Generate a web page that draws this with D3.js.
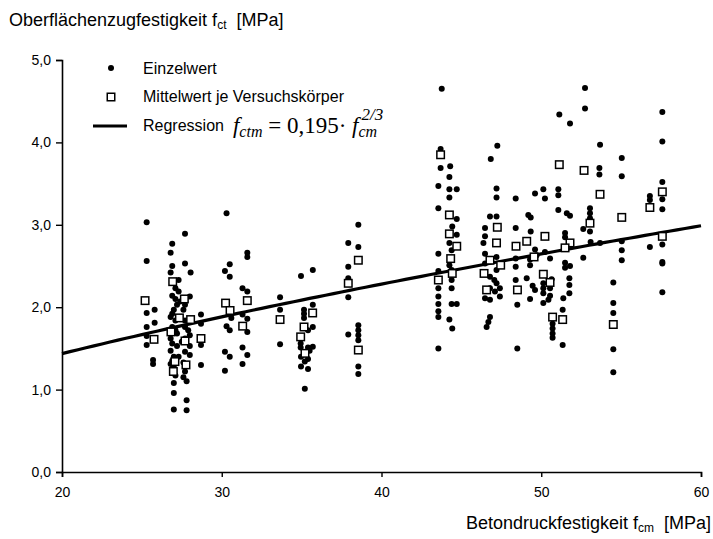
<!DOCTYPE html>
<html>
<head>
<meta charset="utf-8">
<title>Oberflächenzugfestigkeit</title>
<style>
  body { margin: 0; background: #fff; }
  svg text { font-family: "Liberation Sans", Arial, sans-serif; fill: #000; }
  text.formula { font-family: "Liberation Serif", "Times New Roman", serif; }
</style>
</head>
<body>
<svg id="chart" width="713" height="539"></svg>
<script src="https://cdn.jsdelivr.net/npm/d3@7"></script>
<script>

// Einzelwerte [fcm, fct]
var einzelwerte = [
  [25.3,3.03],[25.3,2.56],[25.3,1.93],[25.8,1.97],[25.8,1.81],[25.3,1.76],[25.3,1.65],[25.3,1.54],[25.7,1.36],[25.7,1.31],
  [27.7,2.89],[26.9,2.77],[26.8,2.66],[27.7,2.53],[26.9,2.50],[26.8,2.42],[28.05,2.42],[27.3,2.33],[27.1,2.23],[27.3,2.19],
  [26.9,2.14],[28.0,2.13],[27.1,2.10],[27.4,2.07],[27.2,2.03],[27.7,2.03],[27.0,1.97],[27.6,1.97],[26.9,1.92],[28.7,1.91],
  [26.8,1.88],[27.1,1.84],[27.7,1.84],[28.7,1.80],[26.9,1.76],[27.7,1.76],[27.9,1.72],[27.1,1.72],[27.2,1.68],[28.0,1.66],
  [26.8,1.62],[27.7,1.62],[27.5,1.58],[28.7,1.54],[26.9,1.56],[27.2,1.53],[28.0,1.53],[26.8,1.47],[27.7,1.46],[28.0,1.42],
  [27.0,1.40],[27.3,1.40],[26.9,1.35],[27.6,1.33],[28.7,1.30],[26.8,1.31],[27.0,1.27],[27.7,1.22],[27.1,1.17],[27.6,1.15],
  [27.8,1.10],[27.0,1.08],[27.0,0.96],[27.8,0.87],[27.0,0.76],[27.8,0.75],
  [30.3,3.14],[30.5,2.52],[30.2,2.44],[30.5,2.37],[31.6,2.66],[31.6,2.61],[31.3,2.23],[31.6,2.19],[30.6,1.87],[31.3,1.91],
  [31.6,1.86],[30.3,1.77],[30.5,1.72],[31.6,1.70],[30.2,1.46],[30.5,1.40],[31.3,1.51],[31.6,1.42],[31.3,1.31],[30.2,1.23],
  [33.65,2.12],[33.65,1.97],[33.65,1.55],[34.96,2.38],[35.7,2.45],[35.7,2.03],[35.15,1.97],[35.15,1.92],[35.15,1.87],[35.7,1.76],
  [35.4,1.72],[34.94,1.56],[35.7,1.52],[35.4,1.51],[34.94,1.51],[35.5,1.47],[34.96,1.40],[35.4,1.37],[35.2,1.34],[34.96,1.28],
  [35.4,1.25],[35.2,1.01],
  [38.55,3.00],[37.92,2.78],[38.55,2.73],[37.92,2.49],[37.92,2.35],[37.92,2.12],[37.92,1.67],[38.55,1.78],[38.55,1.72],[38.55,1.66],
  [38.55,1.60],[38.55,1.28],[38.55,1.19],
  [43.77,4.65],[43.7,3.92],[43.7,3.69],[44.3,3.71],[44.25,3.58],[43.56,3.47],[44.25,3.43],[44.71,3.43],[44.25,3.33],[43.56,3.20],
  [44.71,3.07],[44.43,2.98],[44.71,2.88],[44.25,2.78],[44.39,2.69],[43.56,2.65],[44.25,2.51],[44.39,2.45],[43.56,2.44],[44.39,2.33],
  [44.39,2.23],[43.56,2.23],[43.56,2.13],[43.56,2.04],[44.39,2.04],[44.71,2.04],[43.56,1.95],[43.56,1.88],[44.25,1.85],[44.43,1.74],
  [43.56,1.50],
  [47.25,3.96],[46.84,3.80],[47.2,3.44],[47.2,3.33],[46.79,3.10],[47.2,3.10],[46.48,2.96],[46.48,2.86],[46.38,2.78],[46.48,2.65],
  [47.2,2.61],[47.41,2.53],[46.48,2.53],[47.2,2.45],[46.79,2.37],[47.06,2.33],[47.2,2.29],[46.79,2.23],[47.41,2.23],[47.1,2.19],
  [46.48,2.11],[47.41,2.13],[46.79,2.09],[46.79,1.88],[46.69,1.82],[46.58,1.76],
  [48.4,3.32],[48.4,2.96],[48.4,2.59],[48.4,2.49],[48.4,2.33],[48.5,2.03],[48.5,1.50],[49.61,3.38],[50.13,3.43],[50.23,3.32],
  [51.07,3.43],[51.07,3.36],[51.13,4.34],[51.8,4.23],[51.07,3.18],[51.6,3.14],[51.8,3.11],[49.19,3.12],[49.34,3.09],[49.34,2.92],
  [51.49,2.90],[51.49,2.85],[49.61,2.70],[50.23,2.67],[49.71,2.63],[50.55,2.59],[49.3,2.58],[51.49,2.54],[51.8,2.50],[51.49,2.48],
  [49.3,2.51],[49.09,2.35],[50.65,2.34],[50.13,2.29],[51.76,2.35],[51.76,2.27],[51.76,2.17],[51.38,2.11],[49.46,2.26],[49.61,2.21],
  [50.13,2.23],[50.13,2.17],[50.55,2.23],[50.55,2.14],[50.13,2.05],[50.45,2.09],[49.3,2.10],[50.71,1.80],[50.71,1.74],[50.71,1.68],
  [50.71,1.63],[51.34,1.97],[51.34,1.54],
  [52.74,4.66],[52.74,4.41],[53.68,3.97],[53.64,3.69],[53.64,3.61],[53.05,3.20],[53.05,3.14],[53.05,3.08],[53.05,2.92],[52.63,2.95],
  [53.09,2.79],[53.68,2.78],[52.63,2.60],[55.04,3.81],[55.04,3.59],[55.04,2.80],[55.04,2.69],[55.04,2.57],[54.51,2.30],[54.51,2.05],
  [54.51,1.93],[54.51,1.49],[54.51,1.21],
  [57.58,4.37],[57.58,4.01],[57.58,3.52],[57.58,3.31],[57.58,3.19],[56.8,3.35],[56.8,3.30],[57.58,2.76],[57.58,2.55],[57.58,2.53],
  [57.58,2.18],[56.8,2.73]
];

// Mittelwert je Versuchskörper [fcm, fct]
var mittelwerte = [
  [25.2,2.08],[25.76,1.61],[26.93,2.31],[27.66,2.10],[27.35,1.87],[28.05,1.85],[26.82,1.70],[28.7,1.62],[27.7,1.59],[27.07,1.34],
  [27.76,1.30],[26.97,1.22],[30.24,2.05],[30.52,1.96],[31.6,2.08],[31.31,1.77],[33.65,1.85],[35.69,1.93],[35.15,1.76],[34.94,1.64],
  [35.21,1.44],[38.55,2.57],[37.92,2.29],[38.55,1.48],[43.7,3.85],[44.25,3.12],[44.25,2.89],[44.71,2.74],[44.33,2.59],[44.43,2.41],
  [43.56,2.33],[47.25,2.97],[47.2,2.78],[46.79,2.57],[47.46,2.51],[46.42,2.41],[46.58,2.21],[48.42,2.74],[48.51,2.21],[49.09,2.80],
  [50.23,2.86],[51.8,2.78],[51.49,2.72],[49.55,2.61],[50.13,2.40],[50.55,2.30],[50.71,1.88],[51.34,1.85],[51.13,3.73],[52.68,3.66],
  [53.68,3.37],[53.05,3.02],[55.04,3.09],[54.51,1.79],[57.58,3.40],[56.8,3.21],[57.58,2.86]
];

// Regression f_ctm = 0,195 * f_cm^(2/3)
var regKoeff = 0.195;
var regExp = 2 / 3;

var xTicks = [20, 30, 40, 50, 60];
var yTicks = [0, 1, 2, 3, 4, 5];

var svg = d3.select("#chart");
var x = d3.scaleLinear().domain([20, 60]).range([62, 701]);
var y = d3.scaleLinear().domain([0, 5]).range([472, 60]);
var komma = function(d) { return d3.format(".1f")(d).replace(".", ","); };

// axes
var yAxis = svg.append("g")
    .attr("transform", "translate(" + x(20) + ",0)")
    .call(d3.axisLeft(y).tickValues(yTicks).tickFormat(komma).tickSize(6).tickPadding(5));
var xAxis = svg.append("g")
    .attr("transform", "translate(0," + y(0) + ")")
    .call(d3.axisBottom(x).tickValues(xTicks).tickFormat(d3.format("d")).tickSize(5).tickPadding(10));
[yAxis, xAxis].forEach(function(a) {
  a.select(".domain").attr("stroke", "#000").attr("stroke-width", 1.6);
  a.selectAll(".tick line").attr("stroke", "#000").attr("stroke-width", 1.4);
  a.selectAll(".tick text").style("font-size", "14px").attr("fill", "#000");
});

// points
svg.append("g").selectAll("circle")
    .data(einzelwerte).enter().append("circle")
    .attr("cx", function(d) { return x(d[0]); })
    .attr("cy", function(d) { return y(d[1]); })
    .attr("r", 3)
    .attr("fill", "#000");

var reg = d3.range(20, 60.01, 0.5).map(function(f) { return [f, regKoeff * Math.pow(f, regExp)]; });
svg.append("path")
    .datum(reg)
    .attr("fill", "none")
    .attr("stroke", "#000")
    .attr("stroke-width", 3.2)
    .attr("d", d3.line().x(function(d) { return x(d[0]); }).y(function(d) { return y(d[1]); }));

svg.append("g").selectAll("rect")
    .data(mittelwerte).enter().append("rect")
    .attr("x", function(d) { return x(d[0]) - 3.75; })
    .attr("y", function(d) { return y(d[1]) - 3.75; })
    .attr("width", 7.5).attr("height", 7.5)
    .attr("fill", "#fff")
    .attr("stroke", "#000")
    .attr("stroke-width", 1.5);

// titles
var t1 = svg.append("text").attr("x", 9).attr("y", 26).style("font-size", "18px");
t1.append("tspan").text("Oberflächenzugfestigkeit f");
t1.append("tspan").attr("dy", 3).style("font-size", "12px").text("ct");
t1.append("tspan").attr("dy", -3).text("\u00a0 [MPa]");

var t2 = svg.append("text").attr("x", 711).attr("y", 529).attr("text-anchor", "end").style("font-size", "18px");
t2.append("tspan").text("Betondruckfestigkeit f");
t2.append("tspan").attr("dy", 3).style("font-size", "12px").text("cm");
t2.append("tspan").attr("dy", -3).text("\u00a0 [MPa]");

// legend
var leg = svg.append("g");
leg.append("circle").attr("cx", 111).attr("cy", 68).attr("r", 3).attr("fill", "#000");
leg.append("text").attr("x", 143).attr("y", 74).style("font-size", "16px").text("Einzelwert");
leg.append("rect").attr("x", 107.25).attr("y", 93.25).attr("width", 7.5).attr("height", 7.5)
    .attr("fill", "#fff").attr("stroke", "#000").attr("stroke-width", 1.5);
leg.append("text").attr("x", 143).attr("y", 102).style("font-size", "16px").text("Mittelwert je Versuchskörper");
leg.append("line").attr("x1", 93).attr("x2", 127).attr("y1", 126).attr("y2", 126)
    .attr("stroke", "#000").attr("stroke-width", 3.2);
var regText = leg.append("text").attr("x", 143).attr("y", 131).style("font-size", "16px").text("Regression");

var fx = 143 + regText.node().getComputedTextLength() + 9;
var f = leg.append("text").attr("class", "formula").attr("x", fx).attr("y", 133).style("font-size", "23px");
f.append("tspan").style("font-style", "italic").text("f");
f.append("tspan").attr("dy", 4).style("font-size", "16px").style("font-style", "italic").text("ctm");
f.append("tspan").attr("dy", -4).text(" = 0,195\u00b7 ");
f.append("tspan").style("font-style", "italic").text("f");
var cm = f.append("tspan").attr("dy", 4).style("font-size", "16px").style("font-style", "italic").text("cm");
var cmX = cm.node().getStartPositionOfChar(0).x;
leg.append("text").attr("class", "formula")
    .attr("x", cmX + 3).attr("y", 120)
    .style("font-size", "17px").style("font-style", "italic")
    .text("2/3");

</script>
</body>
</html>
